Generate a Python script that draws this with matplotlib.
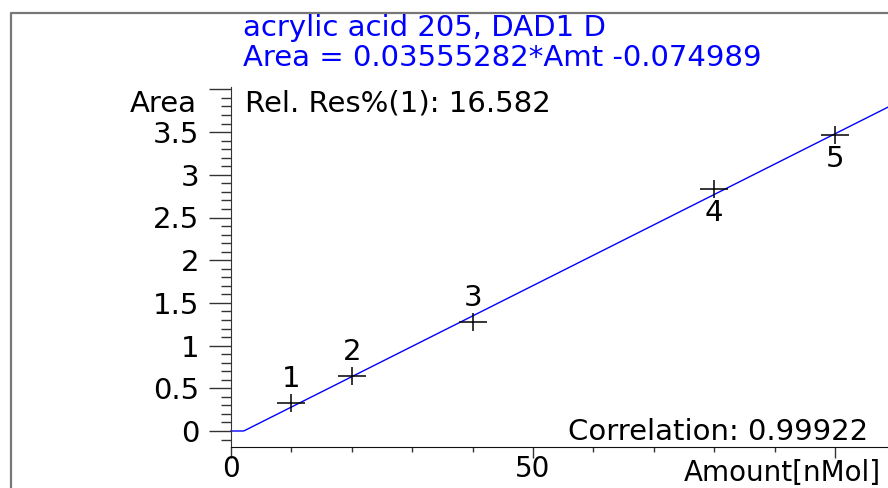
import numpy as np
import matplotlib.pyplot as plt
from matplotlib.lines import Line2D
from matplotlib.ticker import MultipleLocator, FixedLocator

plt.rcParams['font.family'] = ['DejaVu Sans']
FS = 21
FSX = 20  # eje x, un poco menor para no salirse por abajo

# Datos de calibracion
amt = [10, 20, 40, 80, 100]
area = [0.328, 0.644, 1.276, 2.834, 3.466]
etiquetas = ['1', '2', '3', '4', '5']
arriba = [True, True, True, False, False]

pendiente = 0.03555282
ordenada = -0.074989
titulo1 = "acrylic acid 205, DAD1 D"
titulo2 = "Area = 0.03555282*Amt -0.074989"
relres = "Rel. Res%(1): 16.582"
correl = "Correlation: 0.99922"

W, H = 888, 488
fig = plt.figure(figsize=(W / 100, H / 100), dpi=100)
ax = fig.add_axes([231 / W, 41 / H, (W - 231) / W, (447 - 87) / H])

xmax = (W - 231) / 6.04
ymin = -(447 - 431) / 85.4
ymax = (431 - 87) / 85.4
ax.set_xlim(0, xmax)
ax.set_ylim(ymin, ymax)

# Recta de ajuste (recortada en 0)
xs = np.linspace(0, xmax, 400)
ys = np.maximum(pendiente * xs + ordenada, 0)
ax.plot(xs, ys, color='#0000ff', lw=1.0, clip_on=False)

# Puntos
ax.plot(amt, area, ls='none', marker='_', ms=20, mew=1.1, color='black')
ax.plot(amt, area, ls='none', marker='|', ms=13, mew=1.1, color='black')
for x, y, t, up in zip(amt, area, etiquetas, arriba):
    ax.annotate(t, (x, y), xytext=(0, 17 if up else -17), textcoords='offset points',
                ha='center', va='center', fontsize=FS)

for s in ['top', 'right']:
    ax.spines[s].set_visible(False)
ax.spines['left'].set_color('#333333')
ax.spines['bottom'].set_color('#111111')

ax.xaxis.set_major_locator(FixedLocator([0, 50, 100]))
ax.set_xticklabels(['0', '50', ''])
ax.xaxis.set_minor_locator(MultipleLocator(10))
ax.yaxis.set_major_locator(FixedLocator([0, 0.5, 1, 1.5, 2, 2.5, 3, 3.5, 4]))
ax.set_yticklabels(['0', '0.5', '1', '1.5', '2', '2.5', '3', '3.5', ''])
ax.yaxis.set_minor_locator(MultipleLocator(0.1))
ax.tick_params(axis='x', which='major', length=8, width=1, labelsize=FSX, pad=-1.9, color='#333333')
ax.tick_params(axis='x', which='minor', length=3.6, width=1, color='#333333')
ax.tick_params(axis='y', which='major', length=15.8, width=1, labelsize=FS, pad=7, color='#333333')
ax.tick_params(axis='y', which='minor', length=7.2, width=1, color='#333333')

# Textos
fig.text(197 / W, 1 - 103.5 / H, "Area", ha='right', va='center', fontsize=FS)
fig.text(245 / W, 1 - 103.5 / H, relres, ha='left', va='center', fontsize=FS)
fig.text(868 / W, 1 - 432 / H, correl, ha='right', va='center', fontsize=FS)
fig.text(684 / W, 0.6 / H, "Amount[nMol]", ha='left', va='bottom', fontsize=FSX)
fig.text(243 / W, 1 - 28 / H, titulo1, ha='left', va='center', fontsize=FS, color='#0000ff')
fig.text(243 / W, 1 - 58 / H, titulo2, ha='left', va='center', fontsize=FS, color='#0000ff')

# Marco
fig.add_artist(Line2D([11 / W, 11 / W, 1], [0, 1 - 12.5 / H, 1 - 12.5 / H],
                      transform=fig.transFigure, color='#777777', lw=1.6))

fig.savefig('out.png', dpi=100)
